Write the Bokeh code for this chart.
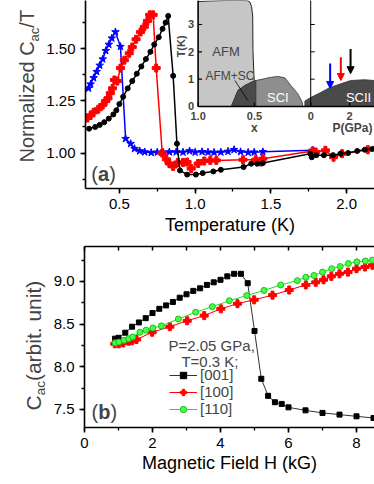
import numpy as np
from bokeh.plotting import figure
from bokeh.models import (Range1d, LinearAxis, SingleIntervalTicker, FixedTicker, PrintfTickFormatter,
                          Label, Legend, LegendItem, Arrow, NormalHead)
from bokeh.layouts import column, row
from bokeh.embed import file_html
from bokeh.resources import INLINE

FONT = "Liberation Sans"

# ---------------- Panel (a): normalized C_ac/T vs temperature ----------------
T_blue = [0.296, 0.31, 0.33, 0.35, 0.37, 0.39, 0.41, 0.43, 0.45, 0.474, 0.507, 0.541, 0.574,
          0.60, 0.634, 0.667, 0.71, 0.75, 0.79, 0.83, 0.875, 0.92, 0.963, 1.0, 1.046, 1.085,
          1.125, 1.17, 1.217, 1.257, 1.30, 1.35, 1.39, 1.447, 1.776]
C_blue = [1.31, 1.33, 1.36, 1.39, 1.42, 1.45, 1.49, 1.52, 1.55, 1.58, 1.51, 1.069, 1.045,
          1.021, 1.01, 1.005, 1.002, 1.004, 1.003, 1.005, 1.005, 1.004, 1.01, 1.004, 1.006, 1.004,
          1.003, 1.004, 1.008, 1.016, 1.006, 1.003, 1.004, 1.006, 1.013]

T_red = [0.289, 0.31, 0.33, 0.36, 0.39, 0.41, 0.425, 0.44, 0.455, 0.467, 0.487, 0.507, 0.533,
         0.565, 0.585, 0.61, 0.64, 0.665, 0.685, 0.70, 0.723, 0.743, 0.783, 0.81, 0.83, 0.855,
         0.886, 0.92, 0.947, 0.974, 1.02, 1.06, 1.10, 1.14, 1.316, 1.40, 1.434, 1.447, 1.776,
         1.796, 1.86, 1.914, 1.97, 2.14]
C_red = [1.168, 1.18, 1.195, 1.21, 1.23, 1.25, 1.262, 1.287, 1.31, 1.35, 1.345, 1.407, 1.445,
         1.478, 1.508, 1.545, 1.58, 1.605, 1.633, 1.662, 1.662, 1.407, 1.0, 0.97, 0.95, 0.936,
         0.955, 0.955, 0.957, 0.926, 0.95, 0.962, 0.965, 0.965, 0.968, 0.968, 0.957, 0.973, 1.01,
         1.005, 1.013, 0.98, 0.997, 1.016]

T_black = [0.30, 0.34, 0.37, 0.40, 0.43, 0.46, 0.48, 0.50, 0.525, 0.555, 0.585, 0.615, 0.645,
           0.675, 0.705, 0.73, 0.76, 0.785, 0.805, 0.822, 0.855, 0.88, 0.90, 0.947, 1.005, 1.05,
           1.12, 1.17, 1.32, 1.37, 1.41, 1.447, 1.76, 1.77, 1.80, 1.85, 1.91, 1.96, 2.01, 2.07,
           2.12, 2.17]
C_black = [1.117, 1.125, 1.135, 1.148, 1.165, 1.185, 1.205, 1.235, 1.27, 1.31, 1.345, 1.38,
           1.415, 1.45, 1.485, 1.52, 1.555, 1.595, 1.625, 1.657, 1.37, 1.045, 0.917, 0.897, 0.897,
           0.904, 0.912, 0.92, 0.933, 0.949, 0.949, 0.952, 0.997, 0.98, 0.99, 0.99, 0.99, 0.997,
           1.0, 1.01, 1.016, 1.02]

# ---------------- Inset: phase diagram ----------------
AFM_x = [1.0, 1.0, 0.9, 0.75, 0.6, 0.56, 0.54, 0.525, 0.515, 0.513, 0.505, 0.495, 0.487]
AFM_T = [0.0, 3.84, 3.86, 3.88, 3.88, 3.87, 3.82, 3.65, 3.3, 2.05, 1.2, 0.5, 0.0]
DOME_x = [0.705, 0.67, 0.646, 0.584, 0.53, 0.487, 0.407, 0.35, 0.292, 0.23, 0.177, 0.115, 0.075, 0.07]
DOME_T = [0.0, 0.35, 0.59, 0.77, 0.88, 0.95, 1.02, 1.07, 1.10, 1.05, 0.77, 0.47, 0.15, 0.0]
SCII_P = [-0.3, 0.0, 0.51, 0.97, 1.54, 2.05, 2.77, 3.28, 4.0]
SCII_T = [0.2, 0.33, 0.51, 0.69, 0.83, 0.95, 0.98, 0.95, 0.9]
ARROW_P = [1.0, 1.55, 2.05]
ARROW_T_START = [1.57, 1.80, 2.10]
ARROW_T_END = [0.66, 0.95, 1.20]
ARROW_COLORS = ["blue", "red", "black"]
INSET_T_TICKS = [0, 1, 2, 3]
INSET_X_TICKS = [1.0, 0.5]
INSET_X_LABELS = ["1.0", "0.5"]
INSET_P_TICKS = [0, 2]
INSET_P_LABELS = ["0", "2"]

# ---------------- Panel (b): C_ac vs magnetic field ----------------
H_001 = [0.9, 1.0, 1.2, 1.4, 1.6, 1.8, 2.0, 2.2, 2.4, 2.6, 2.8, 3.0, 3.2, 3.4, 3.6, 3.8, 4.0,
         4.2, 4.4, 4.6, 4.8, 5.0, 5.2, 5.4, 5.6, 5.8, 6.0, 6.5, 7.0, 7.5, 8.0, 8.5]
C_001 = [8.33, 8.34, 8.40, 8.47, 8.52, 8.57, 8.63, 8.68, 8.72, 8.76, 8.81, 8.85, 8.89, 8.92,
         8.96, 8.99, 9.02, 9.06, 9.09, 9.09, 8.98, 8.42, 7.86, 7.66, 7.585, 7.565, 7.525, 7.49,
         7.46, 7.44, 7.42, 7.40]
H_100 = [0.89, 1.01, 1.14, 1.30, 1.40, 1.53, 1.99, 2.51, 3.02, 3.52, 4.01, 4.50, 4.99, 5.53,
         6.02, 6.51, 6.80, 7.03, 7.26, 7.50, 7.75, 8.0, 8.25, 8.47]
C_100 = [8.27, 8.27, 8.28, 8.30, 8.305, 8.32, 8.405, 8.47, 8.54, 8.60, 8.68, 8.74, 8.785, 8.84,
         8.90, 8.96, 8.99, 9.02, 9.06, 9.09, 9.11, 9.15, 9.17, 9.19]
H_110 = [0.9, 1.01, 1.16, 1.30, 1.42, 1.63, 1.81, 2.01, 2.26, 2.76, 3.27, 3.76, 4.26, 4.77,
         5.28, 5.77, 6.26, 6.51, 6.75, 7.0, 7.27, 7.52, 7.76, 8.01, 8.26, 8.47]
C_110 = [8.28, 8.29, 8.31, 8.33, 8.35, 8.405, 8.43, 8.455, 8.48, 8.56, 8.64, 8.705, 8.775, 8.835,
         8.895, 8.96, 9.01, 9.05, 9.07, 9.11, 9.15, 9.175, 9.21, 9.23, 9.24, 9.25]
H_TOP_TICKS = [0, 1, 2, 3, 4, 5, 6, 7, 8]

# Arial / Liberation Sans advance widths (per 1000 em) for composite labels
W = {' ': 278, '(': 333, ')': 333, '/': 278, '.': 278, 'N': 722, 'o': 556, 'r': 333, 'm': 833,
     'a': 556, 'l': 222, 'i': 222, 'z': 500, 'e': 556, 'd': 556, 'C': 722, 'c': 500, 'T': 611,
     'b': 556, 't': 278, 'u': 556, 'n': 556}
MID = 0.35  # 'middle' baseline sits this many em above the alphabetic baseline


def text_w(s, size):
    return sum(W.get(ch, 556) for ch in s) * size / 1000.0


def style_axis(ax):
    ax.axis_line_width = 1.6
    ax.major_tick_line_width = 1.6
    ax.minor_tick_line_width = 1.3
    ax.major_tick_out = 5
    ax.major_tick_in = 0
    ax.minor_tick_out = 3
    ax.minor_tick_in = 0
    ax.major_label_text_font = FONT
    ax.major_label_text_font_size = "15px"
    ax.major_label_text_color = "black"
    ax.major_label_standoff = 5
    ax.axis_label_text_font = FONT
    ax.axis_label_text_font_style = "normal"
    ax.axis_label_text_font_size = "18px"
    ax.axis_label_text_color = "black"


def label_fig(w, h, frame_top, frame_bottom):
    # the frame of this strip is aligned with its neighbour's frame, so its y range is
    # expressed in page pixels of that frame (top -> bottom)
    f = figure(width=w, height=h, x_range=Range1d(0, w), y_range=Range1d(frame_bottom, frame_top),
               output_backend="svg", toolbar_location=None, x_axis_type=None, y_axis_type=None,
               min_border_left=0, min_border_right=0, min_border_top=0, min_border_bottom=0)
    f.outline_line_color = None
    return f


def vlabel(fig, x_base, y_start, parts):
    """Vertical (bottom-to-top) label made of pieces, each centred so rotation is exact.
    y values are page pixels (downwards)."""
    off = 0.0
    for txt, size, shift in parts:
        w = text_w(txt, size)
        fig.add_layout(Label(x=x_base + shift - MID * size, y=y_start - off - w / 2.0, text=txt,
                             angle=np.pi / 2, text_font=FONT, text_font_size=f"{size}px",
                             text_align="center", text_baseline="middle"))
        off += w


def panel_tag(fig, x, y, letter, size=20):
    off = 0.0
    for txt, style in (("(", "normal"), (letter, "bold"), (")", "normal")):
        fig.add_layout(Label(x=x, y=y, text=txt, x_offset=off, text_font=FONT,
                             text_font_size=f"{size}px", text_font_style=style,
                             text_align="left", text_baseline="middle"))
        off += (611 if (style == "bold" and txt == "b") else W.get(txt, 556)) * size / 1000.0


# ======================= Figure (a) =======================
LA_W, TOP_H = 43, 240
pa = figure(width=374 - LA_W, height=TOP_H, x_range=Range1d(0.2763, 2.1842),
            y_range=Range1d(0.8303, 1.7308),
            output_backend="svg", toolbar_location=None, x_axis_type=None, y_axis_type=None,
            min_border_left=84 - LA_W, min_border_right=0, min_border_top=0, min_border_bottom=52)
pa.outline_line_color = None
xa = LinearAxis(ticker=SingleIntervalTicker(interval=0.5, num_minor_ticks=2),
                formatter=PrintfTickFormatter(format="%.1f"), axis_label="Temperature (K)")
style_axis(xa)
xa.axis_label_standoff = 3
pa.add_layout(xa, "below")
ya = LinearAxis(ticker=SingleIntervalTicker(interval=0.25, num_minor_ticks=2),
                formatter=PrintfTickFormatter(format="%.2f"))
style_axis(ya)
pa.add_layout(ya, "left")

pa.extra_x_ranges = {"ix": Range1d(-1.0, 1.5664)}
pa.extra_y_ranges = {"iy": Range1d(-3.0, 3.878)}
P_TO_S = 0.1726


def xs(xvals):
    return [1.0 - v for v in xvals]


def ps(pvals):
    return [1.0 + P_TO_S * v for v in pvals]


IR = dict(x_range_name="ix", y_range_name="iy")

# inset shapes
pa.patch(xs(AFM_x) + [0.0], AFM_T + [0.0], fill_color="#c6c6c6", line_color="#222222",
         line_width=1, **IR)
pa.patch(xs(DOME_x), DOME_T, fill_color="#8e8e8e", line_color="#333333", line_width=0.8, **IR)
dark_x = [v for v in DOME_x if v >= 0.487]
dark_T = DOME_T[:len(dark_x)]
pa.patch(xs(dark_x) + [1.0 - 0.487], dark_T + [0.0], fill_color="#4a4a4a", line_color="#333333",
         line_width=0.8, **IR)
pa.patch(ps(SCII_P) + [ps([SCII_P[-1]])[0], ps([SCII_P[0]])[0]], SCII_T + [0.0, 0.0],
         fill_color="#4a4a4a", line_color="#333333", line_width=0.8, **IR)

# inset axes
pa.line([0, 0], [0, 5], line_color="black", line_width=1.3, **IR)
pa.line([1, 1], [0, 5], line_color="black", line_width=1.0, **IR)
pa.line([0, 2], [0, 0], line_color="black", line_width=1.3, **IR)
pa.segment([0.0] * len(INSET_T_TICKS), INSET_T_TICKS, [0.035] * len(INSET_T_TICKS), INSET_T_TICKS,
           line_color="black", line_width=1.2, **IR)
pa.segment([1.0] * 3, INSET_T_TICKS[1:], [1.035] * 3, INSET_T_TICKS[1:],
           line_color="black", line_width=1.0, **IR)
bt = xs(INSET_X_TICKS) + ps(INSET_P_TICKS)
pa.segment(bt, [0.0] * len(bt), bt, [0.146] * len(bt), line_color="black", line_width=1.2, **IR)

for t in INSET_T_TICKS:
    pa.add_layout(Label(x=-0.035, y=t, text=str(t), text_font=FONT, text_font_size="11px",
                        text_font_style="bold", text_align="right", text_baseline="middle", **IR))
for xv, lab in zip(xs(INSET_X_TICKS) + ps(INSET_P_TICKS), INSET_X_LABELS + INSET_P_LABELS):
    pa.add_layout(Label(x=xv, y=-0.33, text=lab, text_font=FONT, text_font_size="11px",
                        text_font_style="bold", text_align="center", text_baseline="middle", **IR))
pa.add_layout(Label(x=0.5, y=-0.77, text="x", text_font=FONT, text_font_size="12px",
                    text_font_style="bold", text_align="center", text_baseline="middle", **IR))
pa.add_layout(Label(x=1.548, y=-0.77, text="P(GPa)", text_font=FONT, text_font_size="12px",
                    text_font_style="bold", text_align="right", text_baseline="middle", **IR))
pa.add_layout(Label(x=-0.15, y=2.2, text="T(K)", angle=np.pi / 2, text_font=FONT,
                    text_font_size="11px", text_font_style="bold", text_align="center",
                    text_baseline="middle", **IR))
pa.add_layout(Label(x=0.248, y=2.0, text="AFM", text_font=FONT, text_font_size="13px",
                    text_align="center", text_baseline="middle", **IR))
pa.add_layout(Label(x=0.283, y=1.13, text="AFM+SC", text_font=FONT, text_font_size="12px",
                    text_align="center", text_baseline="middle", **IR))
pa.add_layout(Label(x=0.708, y=0.33, text="SCI", text_font=FONT, text_font_size="13px",
                    text_color="white", text_align="center", text_baseline="middle", **IR))
pa.add_layout(Label(x=ps([2.46])[0], y=0.33, text="SCII", text_font=FONT, text_font_size="13px",
                    text_color="white", text_align="center", text_baseline="middle", **IR))
pa.line(xs([0.673, 0.558]), [0.95, 0.22], line_color="black", line_width=0.8, **IR)
for pv, t0, t1, c in zip(ARROW_P, ARROW_T_START, ARROW_T_END, ARROW_COLORS):
    sx = ps([pv])[0]
    pa.add_layout(Arrow(x_start=sx, y_start=t0, x_end=sx, y_end=t1, line_color=c, line_width=2,
                        end=NormalHead(size=7, fill_color=c, line_color=c), **IR))

# main curves
pa.line(T_blue, C_blue, line_color="blue", line_width=1.5)
pa.scatter(T_blue, C_blue, marker="star", size=8, color="blue")
pa.line(T_red, C_red, line_color="red", line_width=1.5)
pa.scatter(T_red, C_red, marker="plus", size=8, color="red")
pa.line(T_black, C_black, line_color="black", line_width=1.5)
pa.scatter(T_black, C_black, marker="circle", size=5, color="black")

panel_tag(pa, 0.315, 0.8974, "a")

# frame of (a) spans page y 0..188
la = label_fig(LA_W, TOP_H, 0, 188)
vlabel(la, 33.3, 162, [("Normalized C", 20, 0), ("ac", 13, 5), ("/T", 20, 0)])

# ======================= Figure (b) =======================
LB_W, BOT_H = 50, 244
pb = figure(width=374 - LB_W, height=BOT_H, x_range=Range1d(0, 8.529), y_range=Range1d(7.289, 9.41),
            output_backend="svg", toolbar_location=None, x_axis_type=None, y_axis_type=None,
            min_border_left=84 - LB_W, min_border_right=0, min_border_top=6, min_border_bottom=57)
pb.outline_line_color = None
xb = LinearAxis(ticker=SingleIntervalTicker(interval=2, num_minor_ticks=2),
                formatter=PrintfTickFormatter(format="%d"), axis_label="Magnetic Field H (kG)")
style_axis(xb)
xb.axis_label_standoff = 2
pb.add_layout(xb, "below")
yb = LinearAxis(ticker=SingleIntervalTicker(interval=0.5, num_minor_ticks=2),
                formatter=PrintfTickFormatter(format="%.1f"))
style_axis(yb)
pb.add_layout(yb, "left")
tb = LinearAxis(ticker=FixedTicker(ticks=[], minor_ticks=H_TOP_TICKS))
style_axis(tb)
tb.minor_tick_out = 0
tb.minor_tick_in = 4
tb.minor_tick_line_width = 1.5
pb.add_layout(tb, "above")

l1 = pb.line(H_001, C_001, line_color="#333333", line_width=1)
s1 = pb.scatter(H_001, C_001, marker="square", size=5, color="black")
l2 = pb.line(H_100, C_100, line_color="red", line_width=1)
s2 = pb.scatter(H_100, C_100, marker="plus", size=8, color="red")
l3 = pb.line(H_110, C_110, line_color="#22dd22", line_width=1)
s3 = pb.scatter(H_110, C_110, marker="circle", size=6, fill_color="#44ff44", line_color="#22bb22")

leg = Legend(items=[LegendItem(label="[001]", renderers=[l1, s1]),
                    LegendItem(label="[100]", renderers=[l2, s2]),
                    LegendItem(label="[110]", renderers=[l3, s3])],
             location=(85, 10))
leg.background_fill_alpha = 0
leg.border_line_color = None
leg.label_text_font = FONT
leg.label_text_font_size = "15px"
leg.glyph_width = 28
leg.glyph_height = 16
leg.label_height = 16
leg.label_standoff = 3
leg.spacing = 0
leg.padding = 0
leg.margin = 0
pb.add_layout(leg)

pb.add_layout(Label(x=2.47, y=8.25, text="P=2.05 GPa,", text_font=FONT, text_font_size="15px",
                    text_align="left", text_baseline="middle"))
pb.add_layout(Label(x=2.85, y=8.06, text="T=0.3 K;", text_font=FONT, text_font_size="15px",
                    text_align="left", text_baseline="middle"))
panel_tag(pb, 0.206, 7.465, "b")

# frame of (b) spans page y 246..427
lb = label_fig(LB_W, BOT_H, 246, 427)
vlabel(lb, 40, 410, [("C", 21, 0), ("ac", 13.5, 5), (" (arbit. unit)", 21, 0)])

layout = column(row(la, pa), row(lb, pb))
open("out.html", "w").write(file_html(layout, INLINE))
